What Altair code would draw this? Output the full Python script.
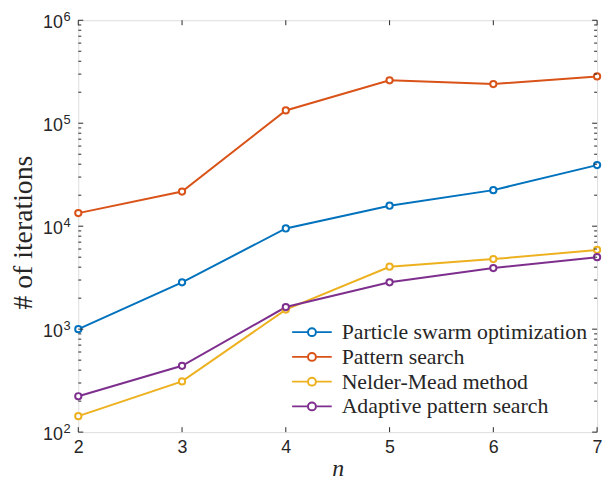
import altair as alt
import pandas as pd

n_values = [2, 3, 4, 5, 6, 7]
methods = ["Particle swarm optimization", "Pattern search", "Nelder-Mead method", "Adaptive pattern search"]
pso = [1000, 2850, 9500, 15800, 22400, 39200]
pattern = [13400, 21700, 133000, 261000, 240000, 285000]
nelder = [143, 311, 1550, 4040, 4790, 5880]
adaptive = [223, 441, 1640, 2850, 3920, 5000]
colors = ["#0072BD", "#D95319", "#EDB120", "#7E2F8E"]

major_y = [1e2, 1e3, 1e4, 1e5, 1e6]
exponents = ["2", "3", "4", "5", "6"]
minor_y = [m * 10 ** e for e in range(2, 6) for m in range(2, 10)]
x_ticks = n_values

rows = []
for name, vals in zip(methods, [pso, pattern, nelder, adaptive]):
    for n, v in zip(n_values, vals):
        rows.append({"n": n, "iterations": v, "method": name})
df = pd.DataFrame(rows)

W, H = 524, 416
AX = "#262626"

yscale = alt.Scale(type="log", domain=[100, 1e6], nice=False)
xscale = alt.Scale(domain=[2, 7], nice=False, zero=False)

xaxis = alt.Axis(
    values=x_ticks, title="n", ticks=False, domain=False, grid=False, labelFlush=False,
    labelFont="Liberation Sans", labelFontSize=18, labelColor=AX, labelPadding=7,
    titleFont="Liberation Serif", titleFontStyle="italic", titleFontWeight="normal",
    titleFontSize=24, titleColor=AX, titleX=W / 2, titleY=44, titleBaseline="alphabetic")
yaxis = alt.Axis(
    values=major_y, title="# of iterations", ticks=False, domain=False, grid=False,
    labelFlush=False, labelExpr="'10'", labelOffset=2,
    labelFont="Liberation Sans", labelFontSize=18, labelColor=AX, labelPadding=16,
    titleFont="Liberation Serif", titleFontWeight="normal", titleFontSize=28,
    titleColor=AX, titleX=-41, titleY=214, titleBaseline="bottom")

sym = "M-2,0H-0.4M0.4,0H2M-0.4,0A0.4,0.4 0 1,0 0.4,0A0.4,0.4 0 1,0 -0.4,0"

lines = alt.Chart(df).mark_line(
    strokeWidth=2,
    point=alt.OverlayMarkDef(filled=False, fill="white", size=40, strokeWidth=2, shape="circle"),
).encode(
    x=alt.X("n:Q", scale=xscale, axis=xaxis),
    y=alt.Y("iterations:Q", scale=yscale, axis=yaxis),
    color=alt.Color("method:N", sort=methods, scale=alt.Scale(domain=methods, range=colors),
                    legend=alt.Legend(
                        title=None, orient="none", legendX=225, legendY=304,
                        symbolType=sym, symbolSize=400, symbolStrokeWidth=2,
                        symbolFillColor="white", labelLimit=0,
                        labelFont="Liberation Serif", labelFontSize=22, labelColor=AX,
                        labelOffset=19, rowPadding=3, padding=0)),
)

ydf_major = pd.DataFrame({"v": major_y, "e": exponents})
ydf_minor = pd.DataFrame({"v": minor_y})
xdf = pd.DataFrame({"xv": x_ticks})

exps = alt.Chart(ydf_major).mark_text(
    align="left", baseline="middle", font="Liberation Sans", fontSize=13, color=AX, dy=-3
).encode(y=alt.Y("v:Q", scale=yscale, axis=yaxis), x=alt.value(-15), text="e:N")

def yticks(data, length):
    base = alt.Chart(data).mark_rule(color=AX, strokeWidth=1)
    left = base.encode(y=alt.Y("v:Q", scale=yscale, axis=yaxis), x=alt.value(0), x2=alt.value(length))
    right = base.encode(y=alt.Y("v:Q", scale=yscale, axis=yaxis), x=alt.value(W - length), x2=alt.value(W))
    return left + right

xb = alt.Chart(xdf).mark_rule(color=AX, strokeWidth=1)
xt_bottom = xb.encode(x=alt.X("xv:Q", scale=xscale, axis=xaxis), y=alt.value(H - 5), y2=alt.value(H))
xt_top = xb.encode(x=alt.X("xv:Q", scale=xscale, axis=xaxis), y=alt.value(0), y2=alt.value(5))

chart = alt.layer(
    lines, yticks(ydf_minor, 3), yticks(ydf_major, 5), xt_bottom, xt_top, exps
).properties(
    width=W, height=H,
    autosize=alt.AutoSizeParams(type="none"),
    padding={"left": 71, "top": 10, "right": 8, "bottom": 49},
).configure_view(
    stroke=AX, strokeWidth=1
).configure(background="white")

chart.save("out.html", embed_options={"renderer": "svg", "actions": False})
